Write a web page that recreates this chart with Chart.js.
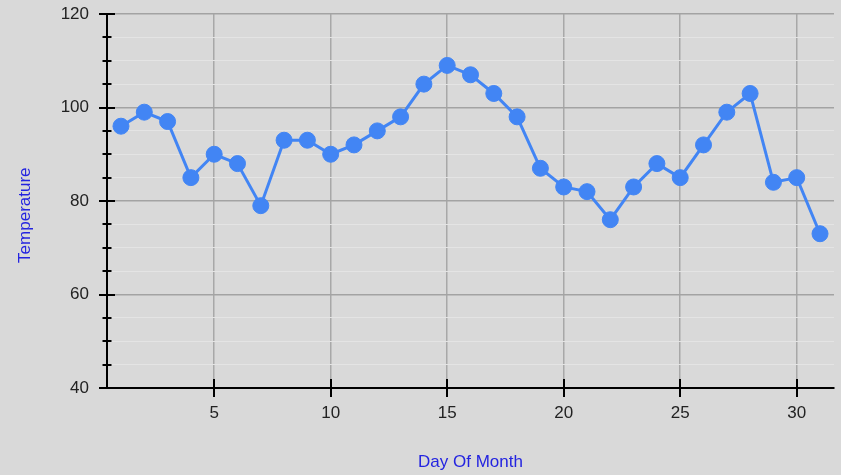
<!DOCTYPE html>
<html>
<head>
<meta charset="utf-8">
<script src="https://cdn.jsdelivr.net/npm/chart.js@4/dist/chart.umd.min.js"></script>
<style>
  html, body { margin: 0; padding: 0; background: #d9d9d9; }
  canvas { display: block; }
</style>
</head>
<body>
<canvas id="chart" width="841" height="475"></canvas>
<script>
// daily temperatures
const days = [1, 2, 3, 4, 5, 6, 7, 8, 9, 10, 11, 12, 13, 14, 15, 16,
  17, 18, 19, 20, 21, 22, 23, 24, 25, 26, 27, 28, 29, 30, 31];
const temperatures = [96, 99, 97, 85, 90, 88, 79, 93, 93, 90, 92, 95, 98, 105, 109, 107,
  103, 98, 87, 83, 82, 76, 83, 88, 85, 92, 99, 103, 84, 85, 73];
const xTicks = [5, 10, 15, 20, 25, 30];
const yLabels = [40, 60, 80, 100, 120];

const blue = "#4285f4";
const titleBlue = "#2424e0";
const font = { family: "'Liberation Sans', Arial, sans-serif", size: 17 };

// tick marks that cross the axis lines, major and minor
const crossTicks = {
  id: "crossTicks",
  afterDraw(chart) {
    const { ctx, scales } = chart;
    const x = scales.x, y = scales.y;
    ctx.save();
    ctx.strokeStyle = "#000";
    ctx.lineWidth = 2;
    y.ticks.forEach(t => {
      const py = Math.round(y.getPixelForValue(t.value));
      const len = yLabels.includes(t.value) ? 8 : 4.5;
      ctx.beginPath();
      ctx.moveTo(x.left - len, py);
      ctx.lineTo(x.left + len, py);
      ctx.stroke();
    });
    x.ticks.forEach(t => {
      const px = Math.round(x.getPixelForValue(t.value));
      ctx.beginPath();
      ctx.moveTo(px, y.bottom - 9);
      ctx.lineTo(px, y.bottom + 9);
      ctx.stroke();
    });
    ctx.restore();
  }
};

new Chart(document.getElementById("chart"), {
  type: "line",
  data: {
    datasets: [{
      data: days.map((d, i) => ({ x: d, y: temperatures[i] })),
      borderColor: blue,
      backgroundColor: blue,
      borderWidth: 3,
      pointRadius: 8,
      pointBorderWidth: 1,
      pointBackgroundColor: blue,
      pointBorderColor: blue,
      tension: 0,
      clip: false
    }]
  },
  options: {
    responsive: false,
    animation: false,
    layout: { autoPadding: false, padding: { top: 14, right: 7, left: 0, bottom: 0 } },
    plugins: { legend: { display: false }, tooltip: { enabled: false } },
    scales: {
      x: {
        type: "linear",
        min: 0.4,
        max: 31.6,
        afterBuildTicks: s => { s.ticks = xTicks.map(v => ({ value: v })); },
        afterFit: s => { s.height = 87; s.paddingLeft = 0; s.paddingRight = 0; },
        ticks: { color: "#222", font, padding: 15 },
        grid: { color: "#a8a8a8", lineWidth: 1.5, drawTicks: false },
        border: { color: "#000", width: 2 },
        title: {
          display: true, text: "Day Of Month", color: titleBlue, font,
          padding: { top: 0, bottom: 2 }
        }
      },
      y: {
        min: 40,
        max: 120,
        afterFit: s => { s.width = 107; s.paddingTop = 0; s.paddingBottom = 0; },
        ticks: {
          stepSize: 5,
          autoSkip: false,
          maxTicksLimit: 100,
          color: "#222",
          font,
          padding: 18,
          callback: v => (yLabels.includes(v) ? v : "")
        },
        grid: {
          color: c => (c.tick && yLabels.includes(c.tick.value) ? "#a3a3a3" : "#e4e4e4"),
          lineWidth: c => (c.tick && yLabels.includes(c.tick.value) ? 1.5 : 1),
          drawTicks: false
        },
        border: { color: "#000", width: 2 },
        title: {
          // trailing spaces push the rotated title a bit lower, as in the reference
          display: true, text: "Temperature      ", color: titleBlue, font,
          padding: { top: 15, bottom: 0 }
        }
      }
    }
  },
  plugins: [crossTicks]
});
</script>
</body>
</html>
